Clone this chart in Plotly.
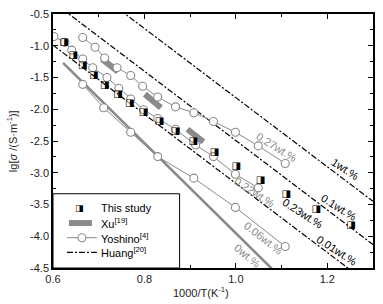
import plotly.graph_objects as go

# ---------------- data ----------------
# This study (half-filled squares)
study_x = [0.624, 0.644, 0.665, 0.689, 0.713, 0.742, 0.768, 0.798, 0.833, 0.868,
           0.907, 0.953, 1.001, 1.054, 1.110, 1.176, 1.252]
study_y = [-0.946, -1.146, -1.315, -1.469, -1.623, -1.762, -1.915, -2.054, -2.192, -2.346,
           -2.500, -2.685, -2.900, -3.115, -3.346, -3.577, -3.823]

# Yoshino [4] series (open circles)
yo027_x = [0.665, 0.692, 0.713, 0.740, 0.770, 0.796, 0.829, 0.868, 0.908, 0.951, 0.999, 1.049, 1.108]
yo027_y = [-0.869, -1.023, -1.192, -1.346, -1.469, -1.638, -1.808, -1.962, -2.054, -2.192, -2.362, -2.577, -2.854]

yo022_x = [0.602, 0.626, 0.641, 0.665, 0.687, 0.718, 0.744, 0.770, 0.798, 0.829, 0.868, 0.912, 0.951, 0.999, 1.049]
yo022_y = [-0.854, -0.946, -1.069, -1.208, -1.346, -1.500, -1.669, -1.838, -2.008, -2.146, -2.315, -2.562, -2.746, -3.023, -3.238]

yo006_x = [0.665, 0.711, 0.770, 0.829, 0.908, 0.999, 1.108]
yo006_y = [-1.608, -1.977, -2.362, -2.746, -3.085, -3.546, -4.162]

# 0 wt.% line
dry_x = [0.622, 1.080]
dry_y = [-1.27, -4.52]

# Xu [19] segments (start / end)
xu_x0 = [0.707, 0.801, 0.894]
xu_x1 = [0.742, 0.836, 0.929]
xu_y0 = [-1.208, -1.762, -2.315]
xu_y1 = [-1.408, -1.977, -2.515]

# Huang [20] model lines, evaluated at the x-range ends
huang_x = [0.6, 1.3]
huang_1wt = [0.36, -3.45]
huang_01wt = [-0.31, -4.13]
huang_001wt = [-0.99, -4.80]

x_ticks = [0.6, 0.8, 1.0, 1.2]
x_ticktext = ["0.6", "0.8", "1.0", "1.2"]
y_ticks = [-0.5, -1.0, -1.5, -2.0, -2.5, -3.0, -3.5, -4.0, -4.5]
y_ticktext = ["-0.5", "-1.0", "-1.5", "-2.0", "-2.5", "-3.0", "-3.5", "-4.0", "-4.5"]

# ---------------- figure ----------------
GREY = "#8a8a8a"
FONT = "Liberation Sans, Arial, sans-serif"
DASHDOT = "6px,2px,2px,2px"

fig = go.Figure()

for yv in (huang_1wt, huang_01wt, huang_001wt):
    fig.add_trace(go.Scatter(x=huang_x, y=yv, mode="lines",
                             line=dict(color="black", width=1.2, dash=DASHDOT),
                             showlegend=False, hoverinfo="skip"))

fig.add_trace(go.Scatter(x=dry_x, y=dry_y, mode="lines",
                         line=dict(color=GREY, width=2.6), showlegend=False))

xu_x, xu_y = [], []
for a, b, c, d in zip(xu_x0, xu_x1, xu_y0, xu_y1):
    xu_x += [a, b, None]
    xu_y += [c, d, None]
fig.add_trace(go.Scatter(x=xu_x, y=xu_y, mode="lines",
                         line=dict(color=GREY, width=6), showlegend=False))

for xs, ys in ((yo027_x, yo027_y), (yo022_x, yo022_y), (yo006_x, yo006_y)):
    fig.add_trace(go.Scatter(x=xs, y=ys, mode="lines+markers",
                             line=dict(color=GREY, width=1),
                             marker=dict(symbol="circle", size=8, color="white",
                                         line=dict(color=GREY, width=1.1)),
                             showlegend=False))

fig.add_trace(go.Scatter(x=study_x, y=study_y, mode="text",
                         text=["\u25e8"] * len(study_x),
                         textposition="middle center",
                         textfont=dict(family="DejaVu Sans", size=10, color="black"),
                         showlegend=False))

# ---------------- annotations: series labels ----------------
labels = [
    ("0.27wt.%", 277, 144, 32, GREY),
    ("1wt.%", 346, 167, 33, "black"),
    ("0.1wt.%", 339, 206, 32, "black"),
    ("0.22wt.%", 255, 190, 33, GREY),
    ("0.23wt.%", 303, 212, 33, "black"),
    ("0.06wt.%", 264, 237, 38, GREY),
    ("0wt.%", 248, 256, 40, GREY),
    ("0.01wt.%", 337, 250, 33, "black"),
]
L, R, T, B = 53, 374, 8, 268


def px2paper(px, py):
    return (px - L) / (R - L), (B - py) / (B - T)


annotations = []
for txt, px, py, ang, col in labels:
    xp, yp = px2paper(px, py)
    annotations.append(dict(text=txt, x=xp, y=yp, xref="paper", yref="paper",
                            xanchor="center", yanchor="middle",
                            showarrow=False, textangle=ang,
                            font=dict(family=FONT, size=11, color=col)))

# axis titles
xp, yp = px2paper(12, 138)
annotations.append(dict(text="lg[<i>σ</i> /(S·m<sup>-1</sup>)]", x=xp, y=yp,
                        xref="paper", yref="paper", showarrow=False, textangle=-90,
                        xanchor="center", yanchor="middle",
                        font=dict(family=FONT, size=11, color="#222")))
xp, yp = px2paper(201, 293)
annotations.append(dict(text="1000/T(K<sup>-1</sup>)", x=xp, y=yp,
                        xref="paper", yref="paper", showarrow=False,
                        xanchor="center", yanchor="middle",
                        font=dict(family=FONT, size=11, color="#222")))

# ---------------- manual legend ----------------
shapes = []
x0, y0 = px2paper(53, 268)
x1, y1 = px2paper(180, 192)
shapes.append(dict(type="rect", xref="paper", yref="paper", x0=x0, y0=y0, x1=x1, y1=y1,
                   line=dict(color="black", width=1), fillcolor="white", layer="above"))

rows = [207, 222, 237, 252]
names = ["This study", "Xu<sup>[19]</sup>", "Yoshino<sup>[4]</sup>", "Huang<sup>[20]</sup>"]
for py, nm in zip(rows, names):
    xp, yp = px2paper(99, py)
    annotations.append(dict(text=nm, x=xp, y=yp, xref="paper", yref="paper",
                            xanchor="left", yanchor="middle", showarrow=False,
                            font=dict(family=FONT, size=11, color="black")))

xp, yp = px2paper(80, rows[0])
annotations.append(dict(text="\u25e8", x=xp, y=yp, xref="paper", yref="paper",
                        xanchor="center", yanchor="middle",
                        showarrow=False, font=dict(family="DejaVu Sans", size=9, color="black")))

a, yp = px2paper(69, rows[1]); b, _ = px2paper(92, rows[1])
shapes.append(dict(type="line", xref="paper", yref="paper", x0=a, x1=b, y0=yp, y1=yp,
                   line=dict(color=GREY, width=6), layer="above"))
a, yp = px2paper(67, rows[2]); b, _ = px2paper(97, rows[2])
shapes.append(dict(type="line", xref="paper", yref="paper", x0=a, x1=b, y0=yp, y1=yp,
                   line=dict(color=GREY, width=1), layer="above"))
c, _ = px2paper(82, rows[2])
shapes.append(dict(type="circle", xref="paper", yref="paper", xsizemode="pixel",
                   ysizemode="pixel", xanchor=c, yanchor=yp, x0=-4, x1=4, y0=-4, y1=4,
                   line=dict(color=GREY, width=1.1), fillcolor="white", layer="above"))
a, yp = px2paper(67, rows[3]); b, _ = px2paper(97, rows[3])
shapes.append(dict(type="line", xref="paper", yref="paper", x0=a, x1=b, y0=yp, y1=yp,
                   line=dict(color="black", width=1.2, dash=DASHDOT), layer="above"))

axis_common = dict(showline=True, linecolor="black", linewidth=1.5, mirror="allticks",
                   ticks="inside", ticklen=5, tickwidth=1, tickcolor="black",
                   showgrid=False, zeroline=False,
                   tickfont=dict(family=FONT, size=11, color="#222"))

fig.update_layout(
    width=383, height=304,
    margin=dict(l=L, r=383 - R, t=T, b=304 - B),
    paper_bgcolor="white", plot_bgcolor="white",
    showlegend=False,
    xaxis=dict(range=[0.6, 1.3], tickmode="array", tickvals=x_ticks, ticktext=x_ticktext,
               minor=dict(tickmode="array", tickvals=[0.7, 0.9, 1.1], ticks="inside",
                          ticklen=3, tickcolor="black"),
               **axis_common),
    yaxis=dict(range=[-4.5, -0.5], tickmode="array", tickvals=y_ticks, ticktext=y_ticktext,
               minor=dict(tickmode="array",
                          tickvals=[-0.75, -1.25, -1.75, -2.25, -2.75, -3.25, -3.75, -4.25],
                          ticks="inside", ticklen=3, tickcolor="black"),
               **axis_common),
    annotations=annotations,
    shapes=shapes,
)

fig.write_html("out.html", config={"displayModeBar": False},
               post_script="document.body.style.margin='0';")
